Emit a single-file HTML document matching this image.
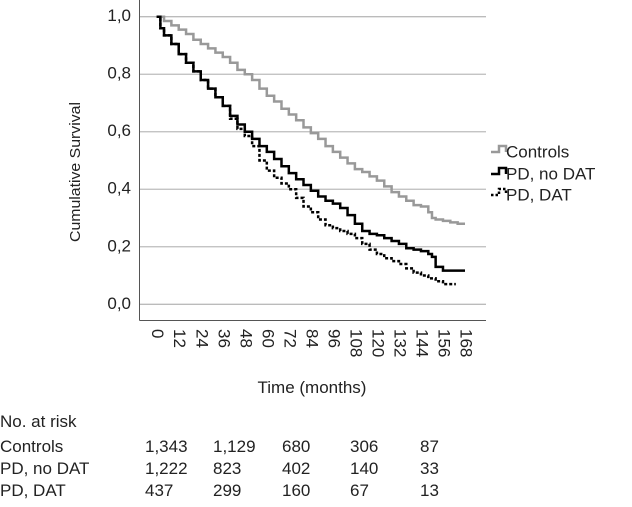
<!DOCTYPE html>
<html><head><meta charset="utf-8"><style>
body{margin:0;background:#fff;width:632px;height:502px;overflow:hidden}
svg{font-family:"Liberation Sans",Arial,sans-serif}
</style></head><body>
<svg width="632" height="502">
<g id="grid"></g>
<line x1="139.5" y1="0" x2="139.5" y2="320.5" stroke="#555" stroke-width="1"/>
<line x1="139.5" y1="320.5" x2="486" y2="320.5" stroke="#555" stroke-width="1"/>
<g id="yt"></g>
<g id="xt"></g>
<g id="series"></g>
<text x="76" y="172" transform="rotate(-90 76 172)" text-anchor="middle" dominant-baseline="middle" font-size="15" fill="#222" textLength="140" lengthAdjust="spacingAndGlyphs">Cumulative Survival</text>
<text x="312" y="393" text-anchor="middle" font-size="17" fill="#222">Time (months)</text>
<g font-size="17" fill="#222">
<g>
<path d="M491 152 H499 V146 H506 V152" fill="none" stroke="#999" stroke-width="2.5"/>
<text x="506" y="153" dominant-baseline="middle">Controls</text></g>
<g>
<path d="M491 174 H499 V168 H506 V174" fill="none" stroke="#000" stroke-width="2.5"/>
<text x="506" y="175" dominant-baseline="middle">PD, no DAT</text></g>
<g>
<path d="M491 195 H499 V189 H506 V195" fill="none" stroke="#000" stroke-width="2.5" stroke-dasharray="2.5,2"/>
<text x="506" y="196" dominant-baseline="middle">PD, DAT</text></g>
</g>
<g font-size="17" fill="#222" id="risk">
<text x="0" y="427">No. at risk</text>
</g>
</svg>
<script>
const yTicks=[0,0.2,0.4,0.6,0.8,1.0];
const yTickLabels=["0,0","0,2","0,4","0,6","0,8","1,0"];
const xTicks=[0,12,24,36,48,60,72,84,96,108,120,132,144,156,168];
const ctrlT=[0,4,8,12,16,20,24,28,32,36,40,44,48,52,56,60,64,68,72,76,80,84,88,92,96,100,104,108,112,116,120,124,128,132,136,140,144,148,150,152,156,160,164,168];
const ctrlS=[1.0,.985,.97,.955,.94,.92,.905,.89,.875,.86,.84,.815,.80,.78,.75,.725,.705,.68,.66,.64,.615,.595,.575,.55,.53,.51,.49,.47,.46,.445,.43,.41,.39,.375,.36,.345,.34,.32,.30,.295,.29,.285,.28,.28];
const pdT=[0,2,4,8,12,16,20,24,28,32,36,40,44,48,52,56,60,64,68,72,76,80,84,88,92,96,100,104,108,112,116,120,124,128,132,136,140,144,148,150,152,156,168];
const pdS=[1,.96,.935,.905,.87,.84,.81,.78,.75,.72,.69,.655,.625,.60,.575,.55,.53,.505,.48,.456,.435,.415,.395,.375,.36,.35,.335,.31,.28,.255,.245,.24,.23,.22,.21,.195,.19,.185,.175,.165,.13,.117,.117];
const datT=[0,2,4,8,12,16,20,24,28,32,36,40,44,48,52,56,60,64,68,72,76,80,84,88,92,96,100,104,108,112,116,120,124,128,132,136,140,144,148,152,156,163];
const datS=[1,.96,.935,.905,.87,.84,.81,.78,.75,.72,.69,.645,.61,.585,.55,.50,.465,.44,.42,.40,.37,.34,.32,.295,.275,.265,.255,.245,.23,.21,.19,.175,.16,.15,.14,.125,.11,.10,.09,.08,.07,.07];
const riskNames=["Controls","PD, no DAT","PD, DAT"];
const riskCtrl=["1,343","1,129","680","306","87"];
const riskPd=["1,222","823","402","140","33"];
const riskDat=["437","299","160","67","13"];
const NS="http://www.w3.org/2000/svg";
const X=t=>156.7+t*(465-156.7)/168;
const Y=v=>304.3-v*(304.3-16.7);
function el(tag,attrs,parent){const e=document.createElementNS(NS,tag);for(const k in attrs)e.setAttribute(k,attrs[k]);parent.appendChild(e);return e;}
const grid=document.getElementById('grid'),yt=document.getElementById('yt'),xt=document.getElementById('xt');
yTicks.forEach((v,i)=>{
 const l=el('line',{x1:140,x2:486,y1:Y(v),y2:Y(v),stroke:'#bbb','stroke-width':1.3},grid);
 
 
 const t=el('text',{x:131,y:Y(v),'text-anchor':'end','dominant-baseline':'middle','font-size':17,fill:'#222'},yt);
 t.textContent=yTickLabels[i];
 
 
});
xTicks.forEach(m=>{
 const t=el('text',{x:X(m),y:329,transform:`rotate(90 ${X(m)} 329)`,'dominant-baseline':'middle','font-size':17,fill:'#222'},xt);
 t.textContent=m;
 
 
});
function step(T,S){let d=`M${X(T[0])} ${Y(S[0])}`;for(let i=1;i<T.length;i++){d+=` H${X(T[i])} V${Y(S[i])}`;}return d;}
const ser=document.getElementById('series');
let p=el('path',{d:step(ctrlT,ctrlS),fill:'none',stroke:'#999','stroke-width':2.5},ser);


p=el('path',{d:step(datT,datS),fill:'none',stroke:'#000','stroke-width':2.5,'stroke-dasharray':'3,2'},ser);


p=el('path',{d:step(pdT,pdS),fill:'none',stroke:'#000','stroke-width':2.5},ser);


const risk=document.getElementById('risk');
const colX=[145,213,282,350,420];
const rowY=[452,474,496];
[riskCtrl,riskPd,riskDat].forEach((row,r)=>{
 const n=el('text',{x:0,y:rowY[r]},risk);n.textContent=riskNames[r];
 
 
 row.forEach((v,c)=>{const t=el('text',{x:colX[c],y:rowY[r]},risk);t.textContent=v;
  
  });
});
</script>
</body></html>
